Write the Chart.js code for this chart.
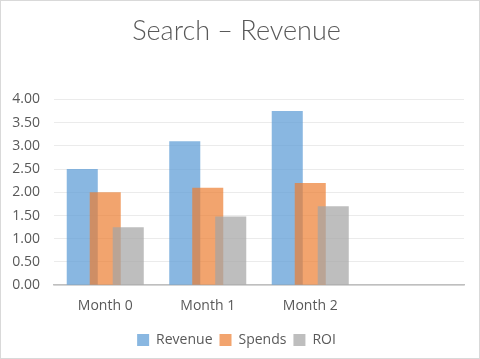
<!DOCTYPE html>
<html>
<head>
<meta charset="utf-8">
<script src="https://cdn.jsdelivr.net/npm/chart.js@4"></script>
<style>
  html, body { margin: 0; padding: 0; background: #fff; }
  #wrap {
    position: relative;
    width: 478px;
    height: 357px;
    border: 1px solid #d9d9d9;
  }
</style>
</head>
<body>
<div id="wrap"><canvas id="searchChart"></canvas></div>
<script>
/* =========================================================
   Data: Search – Revenue
   ========================================================= */

const months = ["Month 0", "Month 1", "Month 2", ""];
const revenue = [2.50, 3.10, 3.75, null];
const spends = [2.00, 2.10, 2.20, null];
const roi = [1.25, 1.48, 1.70, null];
const yTicks = [0, 0.5, 1, 1.5, 2, 2.5, 3, 3.5, 4];

const textColor = "#595959";

function makeSet(label, data, color) {
  return {
    label,
    data,
    backgroundColor: color,
    borderWidth: 0,
    categoryPercentage: 0.673,
    barPercentage: 1.35
  };
}

// Chart.js paints the first dataset on top; the reference has later series on top
const drawForward = {
  id: "drawForward",
  beforeDatasetsDraw(chart) {
    const ctx = chart.ctx;
    const a = chart.chartArea;
    ctx.save();
    ctx.beginPath();
    ctx.rect(a.left, a.top, a.right - a.left, a.bottom - a.top);
    ctx.clip();
    chart.getSortedVisibleDatasetMetas().forEach(meta => meta.controller.draw());
    ctx.restore();
    return false;
  }
};

new Chart(document.getElementById("searchChart"), {
  type: "bar",
  data: {
    labels: months,
    datasets: [
      makeSet("Revenue", revenue, "rgba(91,155,213,0.72)"),
      makeSet("Spends", spends, "rgba(237,125,49,0.70)"),
      makeSet("ROI", roi, "rgba(165,165,165,0.72)")
    ]
  },
  plugins: [drawForward],
  options: {
    responsive: true,
    maintainAspectRatio: false,
    animation: false,
    layout: { padding: { left: 8, right: 15, top: 2, bottom: 1 } },
    plugins: {
      title: {
        display: true,
        text: "Search – Revenue",
        color: textColor,
        font: { family: "Lato", size: 27, weight: 300 },
        padding: { top: 12, bottom: 52 }
      },
      legend: {
        position: "bottom",
        labels: {
          color: textColor,
          font: { family: "Open Sans", size: 14 },
          boxWidth: 12,
          boxHeight: 12,
          padding: 7
        }
      },
      tooltip: { enabled: false }
    },
    scales: {
      x: {
        grid: { display: false, drawTicks: false },
        border: { color: "#bfbfbf", width: 1.5 },
        ticks: {
          color: textColor,
          font: { family: "Open Sans", size: 14 },
          padding: 12
        }
      },
      y: {
        min: 0,
        max: 4,
        afterBuildTicks: axis => {
          axis.ticks = yTicks.map(v => ({ value: v }));
        },
        afterFit: axis => { axis.width = 45; },
        grid: { color: "#ebebeb", drawTicks: false },
        border: { display: false },
        ticks: {
          color: textColor,
          font: { family: "Open Sans", size: 14 },
          padding: 14,
          callback: v => v.toFixed(2)
        }
      }
    }
  }
});
</script>
</body>
</html>
